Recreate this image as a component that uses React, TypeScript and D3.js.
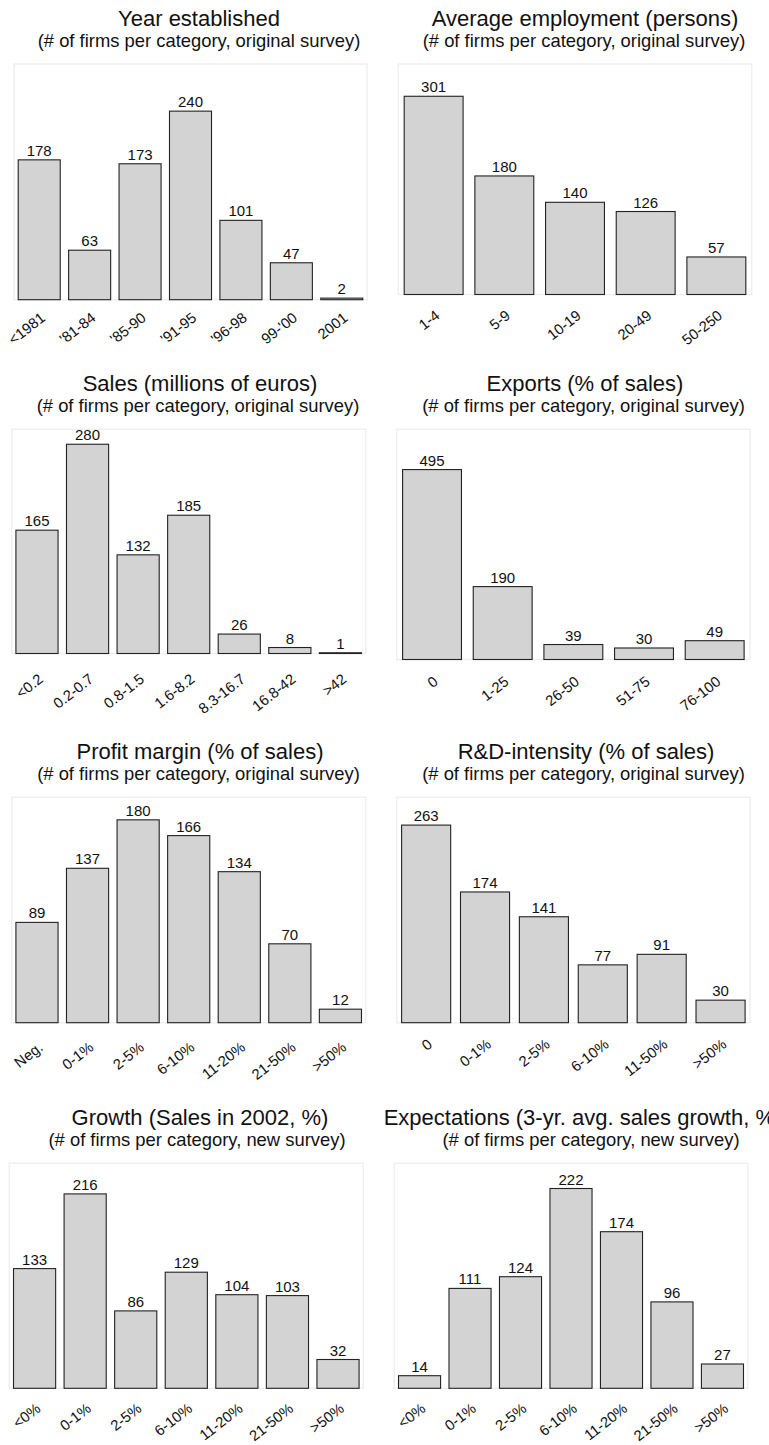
import React from "react";
import * as d3 from "d3";

// ---------- data ----------
const yearCats = ["<1981", "'81-84", "'85-90", "'91-95", "'96-98", "99-'00", "2001"];
const yearVals = [178, 63, 173, 240, 101, 47, 2];

const empCats = ["1-4", "5-9", "10-19", "20-49", "50-250"];
const empVals = [301, 180, 140, 126, 57];

const salesCats = ["<0.2", "0.2-0.7", "0.8-1.5", "1.6-8.2", "8.3-16.7", "16.8-42", ">42"];
const salesVals = [165, 280, 132, 185, 26, 8, 1];

const exportCats = ["0", "1-25", "26-50", "51-75", "76-100"];
const exportVals = [495, 190, 39, 30, 49];

const profitCats = ["Neg.", "0-1%", "2-5%", "6-10%", "11-20%", "21-50%", ">50%"];
const profitVals = [89, 137, 180, 166, 134, 70, 12];

const rdCats = ["0", "0-1%", "2-5%", "6-10%", "11-50%", ">50%"];
const rdVals = [263, 174, 141, 77, 91, 30];

const growthCats = ["<0%", "0-1%", "2-5%", "6-10%", "11-20%", "21-50%", ">50%"];
const growthVals = [133, 216, 86, 129, 104, 103, 32];

const expectCats = ["<0%", "0-1%", "2-5%", "6-10%", "11-20%", "21-50%", ">50%"];
const expectVals = [14, 111, 124, 222, 174, 96, 27];

const titles = [
  "Year established",
  "Average employment (persons)",
  "Sales (millions of euros)",
  "Exports (% of sales)",
  "Profit margin (% of sales)",
  "R&D-intensity (% of sales)",
  "Growth (Sales in 2002, %)",
  "Expectations (3-yr. avg. sales growth, %)",
];
const subOrig = "(# of firms per category, original survey)";
const subNew = "(# of firms per category, new survey)";
const subtitles = [subOrig, subOrig, subOrig, subOrig, subOrig, subOrig, subNew, subNew];
const yMaxes = [300, 350, 300, 600, 200, 300, 250, 250];

const panelData = [
  { cats: yearCats, vals: yearVals },
  { cats: empCats, vals: empVals },
  { cats: salesCats, vals: salesVals },
  { cats: exportCats, vals: exportVals },
  { cats: profitCats, vals: profitVals },
  { cats: rdCats, vals: rdVals },
  { cats: growthCats, vals: growthVals },
  { cats: expectCats, vals: expectVals },
];

// ---------- layout ----------
const layout = [
  { left: 14, right: 367, top: 64, base: 299.7, tx: 199, sx: 199, ldy: 20 },
  { left: 398.3, right: 751.7, top: 64, base: 294.5, tx: 585, sx: 584, ldy: 23 },
  { left: 11.7, right: 365.7, top: 429.3, base: 653.5, tx: 200, sx: 198, ldy: 27.5 },
  { left: 396.7, right: 750, top: 429.3, base: 659.5, tx: 585, sx: 583.5, ldy: 24 },
  { left: 11.7, right: 365.7, top: 797.3, base: 1022.7, tx: 200, sx: 198.5, ldy: 26.5 },
  { left: 396.7, right: 750, top: 797.3, base: 1022.7, tx: 586, sx: 583.5, ldy: 23.5 },
  { left: 9.3, right: 363.3, top: 1163.3, base: 1388.3, tx: 200, sx: 197, ldy: 22 },
  { left: 394.3, right: 747.7, top: 1163.3, base: 1388.3, tx: 583, sx: 591, ldy: 22 },
];

const FONT = "'Liberation Sans', Arial, Helvetica, sans-serif";

function Panel({ i }: { i: number }) {
  const L = layout[i];
  const { cats, vals } = panelData[i];
  const x = d3
    .scaleBand<string>()
    .domain(cats)
    .range([L.left, L.right])
    .paddingInner(1 / 6)
    .paddingOuter(1 / 12);
  const y = d3.scaleLinear().domain([0, yMaxes[i]]).range([L.base, L.top]);
  return (
    <g>
      <text x={L.tx} y={L.top - 38} textAnchor="middle" fontSize={22} fill="#111">
        {titles[i]}
      </text>
      <text x={L.sx} y={L.top - 17} textAnchor="middle" fontSize={18.4} fill="#111">
        {subtitles[i]}
      </text>
      <rect
        x={L.left}
        y={L.top}
        width={L.right - L.left}
        height={L.base - L.top}
        fill="none"
        stroke="#efefef"
        strokeWidth={1.5}
      />
      {cats.map((c, k) => {
        const bx = x(c)!;
        const cx = bx + x.bandwidth() / 2;
        const ty = y(vals[k]);
        return (
          <g key={c}>
            <rect
              x={bx}
              y={ty}
              width={x.bandwidth()}
              height={Math.max(0, L.base - ty)}
              fill="#d3d3d3"
              stroke="#222"
              strokeWidth={1.1}
            />
            <text x={cx} y={ty - 4} textAnchor="middle" fontSize={15} fill="#111">
              {vals[k]}
            </text>
            <text
              transform={`translate(${cx + 7},${L.base + L.ldy}) rotate(-38)`}
              textAnchor="end"
              fontSize={14.8}
              fill="#111"
            >
              {c}
            </text>
          </g>
        );
      })}
    </g>
  );
}

export default function App() {
  return (
    <svg
      width={769}
      height={1445}
      style={{ position: "absolute", left: 0, top: 0, background: "#fff" }}
      fontFamily={FONT}
    >
      <rect x={0} y={0} width={769} height={1445} fill="#fff" />
      {layout.map((_, i) => (
        <Panel key={i} i={i} />
      ))}
    </svg>
  );
}
